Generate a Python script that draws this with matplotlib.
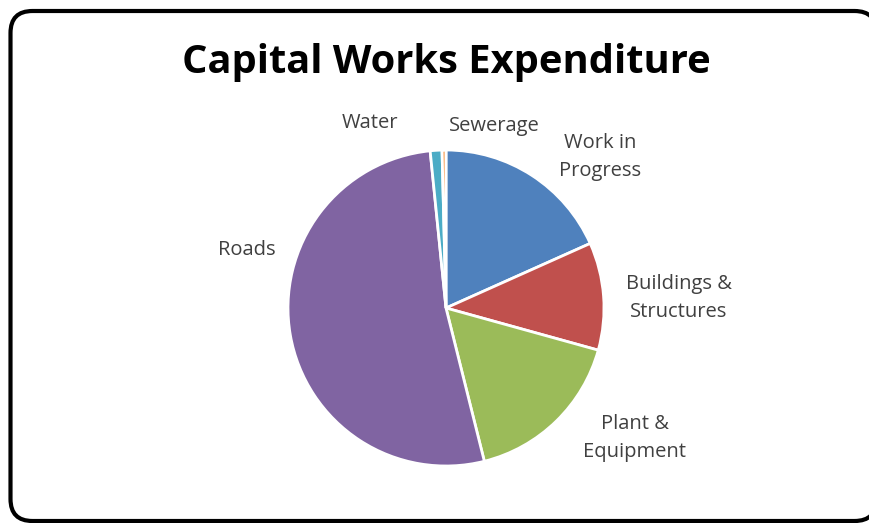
import matplotlib
matplotlib.use("Agg")
import matplotlib.pyplot as plt
from matplotlib.patches import FancyBboxPatch

# slices, clockwise from 12 o'clock
categories = ["Work in\nProgress", "Buildings &\nStructures", "Plant &\nEquipment",
              "Roads", "Water", "Sewerage"]
values = [18.3, 11.0, 16.8, 52.3, 1.2, 0.4]
colors = ["#4F81BD", "#C0504D", "#9BBB59", "#8064A2", "#4BACC6", "#F79646"]

W, H = 870, 523
fig = plt.figure(figsize=(W / 100, H / 100), dpi=100)
ax = fig.add_axes([0, 0, 1, 1])

cx, cy, r = 446, H - 308, 158
wedges, _ = ax.pie(values, colors=colors, startangle=90, counterclock=False,
                   center=(cx, cy), radius=r,
                   wedgeprops=dict(edgecolor="white", linewidth=2))
ax.set_aspect("equal", adjustable="box")
ax.set_xlim(0, W)
ax.set_ylim(0, H)
ax.axis("off")

# label positions (pixels, from top-left)
label_pos = [(600, 157), (679, 298), (635, 438), (247, 250), (370, 123), (494, 126)]
for txt, (x, y) in zip(categories, label_pos):
    ax.text(x, H - y, txt, ha="center", va="center", fontsize=14.5,
            family="Open Sans", color="#404040", linespacing=1.57)

ax.text(446, H - 62, "Capital Works Expenditure", ha="center", va="center",
        fontsize=28.7, fontweight="bold", family="Open Sans", color="black")

# rounded frame in figure pixels, runs off the right edge
# (filled white so agg doesn't clip the outline against the canvas)
frame = FancyBboxPatch((10.5, 2), 866, 510, boxstyle="round,pad=0,rounding_size=22",
                       transform=None, facecolor="white", edgecolor="black",
                       linewidth=3, clip_on=False, zorder=-1)
fig.add_artist(frame)

fig.savefig("out.png", dpi=100)
